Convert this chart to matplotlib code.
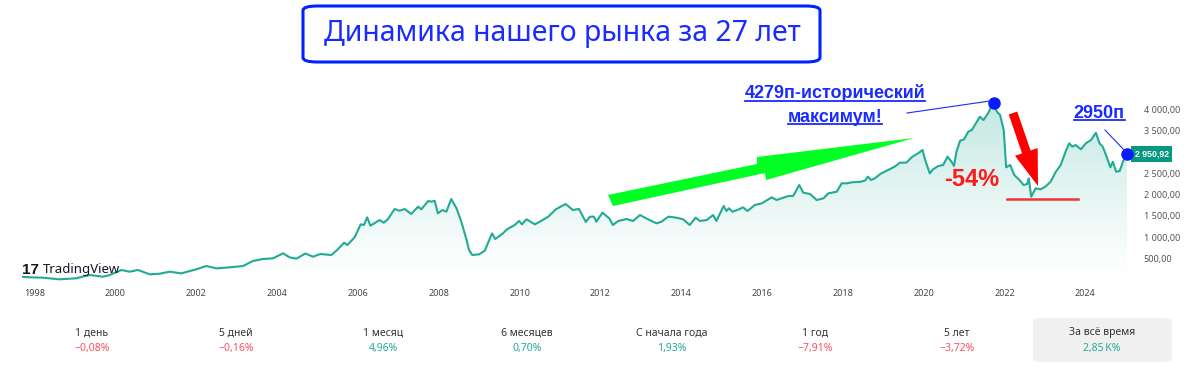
import matplotlib
matplotlib.use("Agg")
import matplotlib.pyplot as plt
import numpy as np
from matplotlib.patches import Polygon, FancyBboxPatch
from matplotlib.lines import Line2D
from matplotlib.transforms import blended_transform_factory

plt.rcParams['font.family'] = ['Noto Sans', 'DejaVu Sans']
BOLD = ['Liberation Sans', 'DejaVu Sans']

# index values (time in fractional years)
years = [1997.69, 1997.88, 1998.2, 1998.62, 1999.03, 1999.36, 1999.7, 1999.86, 2000.15, 2000.35,
         2000.56, 2000.85, 2001.1, 2001.34, 2001.63, 2002.0, 2002.25, 2002.5, 2002.83, 2003.16,
         2003.4, 2003.65, 2003.9, 2004.15, 2004.31, 2004.48, 2004.7, 2004.89, 2005.07, 2005.34,
         2005.47, 2005.66, 2005.74, 2005.92, 2006.07, 2006.15, 2006.23, 2006.31, 2006.54, 2006.64,
         2006.74, 2006.91, 2007.03, 2007.16, 2007.32, 2007.49, 2007.57, 2007.74, 2007.82, 2007.9,
         2007.98, 2008.09, 2008.19, 2008.31, 2008.44, 2008.56, 2008.69, 2008.75, 2008.83, 2009.0,
         2009.14, 2009.32, 2009.4, 2009.59, 2009.69, 2009.88, 2009.99, 2010.06, 2010.17, 2010.38,
         2010.5, 2010.71, 2010.9, 2011.14, 2011.32, 2011.47, 2011.64, 2011.74, 2011.84, 2011.9,
         2012.05, 2012.22, 2012.31, 2012.44, 2012.65, 2012.81, 2012.98, 2013.18, 2013.39, 2013.51,
         2013.68, 2013.88, 2014.05, 2014.21, 2014.36, 2014.46, 2014.63, 2014.79, 2014.87, 2015.05,
         2015.12, 2015.18, 2015.27, 2015.43, 2015.53, 2015.64, 2015.82, 2015.99, 2016.24, 2016.36,
         2016.65, 2016.77, 2016.92, 2017.02, 2017.19, 2017.35, 2017.52, 2017.64, 2017.85, 2017.97,
         2018.1, 2018.22, 2018.43, 2018.55, 2018.62, 2018.7, 2018.79, 2018.95, 2019.12, 2019.28,
         2019.41, 2019.57, 2019.72, 2019.86, 2019.97, 2020.05, 2020.15, 2020.23, 2020.36, 2020.48,
         2020.59, 2020.69, 2020.75, 2020.81, 2020.9, 2021.0, 2021.1, 2021.19, 2021.29, 2021.39,
         2021.48, 2021.6, 2021.69, 2021.73, 2021.81, 2021.89, 2021.98, 2022.04, 2022.14, 2022.24,
         2022.37, 2022.47, 2022.56, 2022.6, 2022.66, 2022.77, 2022.89, 2023.01, 2023.14, 2023.27,
         2023.39, 2023.51, 2023.6, 2023.68, 2023.76, 2023.89, 2024.01, 2024.14, 2024.26, 2024.35,
         2024.43, 2024.51, 2024.62, 2024.68, 2024.76, 2024.85, 2024.93, 2025.03]
values = [77, 63, 55, 16, 40, 117, 77, 117, 234, 195,
          234, 133, 148, 195, 156, 250, 328, 273, 297, 328,
          445, 492, 508, 625, 531, 500, 620, 546, 609, 585,
          687, 874, 820, 1000, 1304, 1288, 1468, 1272, 1405, 1342,
          1421, 1663, 1623, 1663, 1546, 1717, 1656, 1850, 1834, 1857,
          1562, 1639, 1600, 1897, 1679, 1365, 937, 703, 585, 601,
          687, 1093, 960, 1093, 1187, 1288, 1382, 1304, 1421, 1304,
          1365, 1483, 1656, 1780, 1639, 1665, 1360, 1483, 1483, 1365,
          1577, 1444, 1288, 1382, 1428, 1382, 1522, 1421, 1327, 1365,
          1483, 1460, 1421, 1288, 1460, 1382, 1405, 1522, 1382, 1733,
          1616, 1679, 1600, 1656, 1702, 1616, 1756, 1795, 1936, 1873,
          1967, 1967, 2225, 2045, 2014, 1873, 1913, 2030, 2068, 2264,
          2264, 2288, 2300, 2330, 2420, 2342, 2381, 2498, 2576, 2654,
          2748, 2748, 2888, 2967, 3044, 2770, 2498, 2592, 2670, 2693,
          2888, 2770, 2670, 3005, 3262, 3295, 3473, 3513, 3670, 3824,
          3747, 3918, 4098, 4150, 3942, 3864, 3513, 2639, 2693, 2459,
          2342, 2225, 2248, 2381, 1951, 2147, 2124, 2186, 2302, 2537,
          2693, 3005, 3200, 3122, 3162, 3061, 3200, 3279, 3450, 3200,
          3122, 2927, 2639, 2770, 2537, 2553, 2770, 2950.92]

year_ticks = list(range(1998, 2025, 2))
price_ticks = [500, 1000, 1500, 2000, 2500, 3500, 4000]

stat_labels = ["1 день", "5 дней", "1 месяц", "6 месяцев", "С начала года", "1 год", "5 лет", "За всё время"]
stat_values = ["\u22120,08%", "\u22120,16%", "4,96%", "0,70%", "1,93%", "\u22127,91%", "\u22123,72%", "2,85\u202fK%"]
stat_up = [False, False, True, True, True, False, False, True]

W, H = 1200, 369
def fx(x):
    return x / W
def fy(y):
    return 1 - y / H

teal = "#22ab94"
fig = plt.figure(figsize=(12, 3.69), dpi=100)
ax = fig.add_axes([fx(22), fy(283), fx(1127) - fx(22), fy(80) - fy(283)])
ymin, ymax = -70, 4684
ax.set_xlim(years[0], years[-1])
ax.set_ylim(ymin, ymax)

t = np.array(years)
v = np.array(values)

# gradient fill under line
grad = np.linspace(0, 1, 256).reshape(-1, 1)
rgba = np.zeros((256, 1, 4))
rgba[..., 0] = 34 / 255
rgba[..., 1] = 171 / 255
rgba[..., 2] = 148 / 255
rgba[..., 3] = 0.32 * grad ** 1.2
im = ax.imshow(rgba, extent=[t[0], t[-1], ymin, ymax], origin='lower', aspect='auto', zorder=1)
verts = np.column_stack([np.r_[t[0], t, t[-1]], np.r_[ymin, v, ymin]])
poly = Polygon(verts, closed=True, facecolor='none', edgecolor='none')
ax.add_patch(poly)
im.set_clip_path(poly)

ax.plot(t, v, color=teal, lw=1.5, zorder=3)

for s in ax.spines.values():
    s.set_visible(False)
ax.set_xticks(year_ticks)
ax.set_xticklabels([str(y) for y in year_ticks], fontsize=6.5, color="#444444")
ax.yaxis.tick_right()
ax.set_yticks(price_ticks)
ax.set_yticklabels([f"{p:,.2f}".replace(",", " ").replace(".", ",") for p in price_ticks],
                   fontsize=6.5, color="#555555")
ax.tick_params(length=0, axis='x', pad=4)
ax.tick_params(length=0, axis='y', pad=12)

# last price tag
tr = blended_transform_factory(ax.transAxes, ax.transData)
ax.text(1.007, values[-1], f"{values[-1]:,.2f}".replace(",", " ").replace(".", ","),
        transform=tr, fontsize=6.3, color="white", fontweight="bold", va="center", ha="left",
        family=BOLD, bbox=dict(boxstyle="square,pad=0.4", fc="#089981", ec="none"),
        clip_on=False, zorder=6)

# markers at peak and last point
imax = int(np.argmax(v))
ax.plot([t[imax], t[-1]], [v[imax], v[-1]], 'o', color="#0a1aff", ms=8, zorder=7, clip_on=False)

# TradingView logo
fig.text(fx(22), fy(270), "17", fontsize=11, fontweight="bold", family=BOLD, color="#131722", va="center")
fig.text(fx(43), fy(270), "TradingView", fontsize=9.5, color="#131722", va="center")

# title box
fig.patches.append(FancyBboxPatch((fx(303), fy(62)), fx(820) - fx(303), fy(6) - fy(62),
                                  boxstyle="round,pad=0,rounding_size=0.012", transform=fig.transFigure,
                                  fc="white", ec="#0022ff", lw=2.2))
fig.text(fx(562), fy(33), "Динамика нашего рынка за 27 лет", fontsize=20.5, color="#1a2bff",
         ha="center", va="center")

# green arrow
green = [(608, 195), (757, 164), (757, 157), (914, 138), (766, 180), (765, 173), (613, 206)]
fig.patches.append(Polygon([(fx(x), fy(y)) for x, y in green], closed=True, transform=fig.transFigure,
                           fc="#00ff22", ec="none"))

# red arrow
p0 = np.array([1013.0, 113.0]); p1 = np.array([1038.0, 186.0])
d = (p1 - p0) / np.linalg.norm(p1 - p0); n = np.array([-d[1], d[0]])
hb = p1 - d * 36
red = [p0 + n * 4.5, hb + n * 4.5, hb + n * 12, p1, hb - n * 12, hb - n * 4.5, p0 - n * 4.5]
fig.patches.append(Polygon([(fx(x), fy(y)) for x, y in red], closed=True, transform=fig.transFigure,
                           fc="#ff0000", ec="none"))
fig.text(fx(972), fy(179), "-54%", fontsize=17, fontweight="bold", family=BOLD, color="#ff1a1a",
         ha="center", va="center")
fig.lines.append(Line2D([fx(1007), fx(1078)], [fy(199), fy(199)], transform=fig.transFigure,
                        color="#ee3333", lw=1.8))

# blue annotations
blue = "#1a2bff"
ann = [fig.text(fx(835), fy(93), "4279п-исторический", fontsize=13, fontweight="bold", family=BOLD,
                color=blue, ha="center", va="center"),
       fig.text(fx(835), fy(117), "максимум!", fontsize=13, fontweight="bold", family=BOLD,
                color=blue, ha="center", va="center"),
       fig.text(fx(1099), fy(113), "2950п", fontsize=13, fontweight="bold", family=BOLD,
                color=blue, ha="center", va="center")]
fig.lines.append(Line2D([fx(907), fx(990)], [fy(113), fy(101)], transform=fig.transFigure, color=blue, lw=0.8))
fig.lines.append(Line2D([fx(1105), fx(1125)], [fy(130), fy(151)], transform=fig.transFigure, color=blue, lw=0.8))

# bottom stats
centers = [92, 236, 383, 527, 672, 815, 957, 1102]
fig.patches.append(FancyBboxPatch((fx(1033), fy(362)), fx(1172) - fx(1033), fy(318) - fy(362),
                                  boxstyle="round,pad=0,rounding_size=0.008", transform=fig.transFigure,
                                  fc="#f0f0f0", ec="none"))
for cx, lab, val, up in zip(centers, stat_labels, stat_values, stat_up):
    fig.text(fx(cx), fy(333), lab, fontsize=7.5, color="#333333", ha="center", va="center")
    fig.text(fx(cx), fy(348), val, fontsize=7.5, color=teal if up else "#f7525f", ha="center", va="center")

# underline the blue annotations
fig.canvas.draw()
r = fig.canvas.get_renderer()
for a in ann:
    bb = a.get_window_extent(r).transformed(fig.transFigure.inverted())
    fig.lines.append(Line2D([bb.x0, bb.x1], [bb.y0 + 0.004, bb.y0 + 0.004], transform=fig.transFigure,
                            color=blue, lw=1.3))

fig.savefig("out.png", dpi=100)
